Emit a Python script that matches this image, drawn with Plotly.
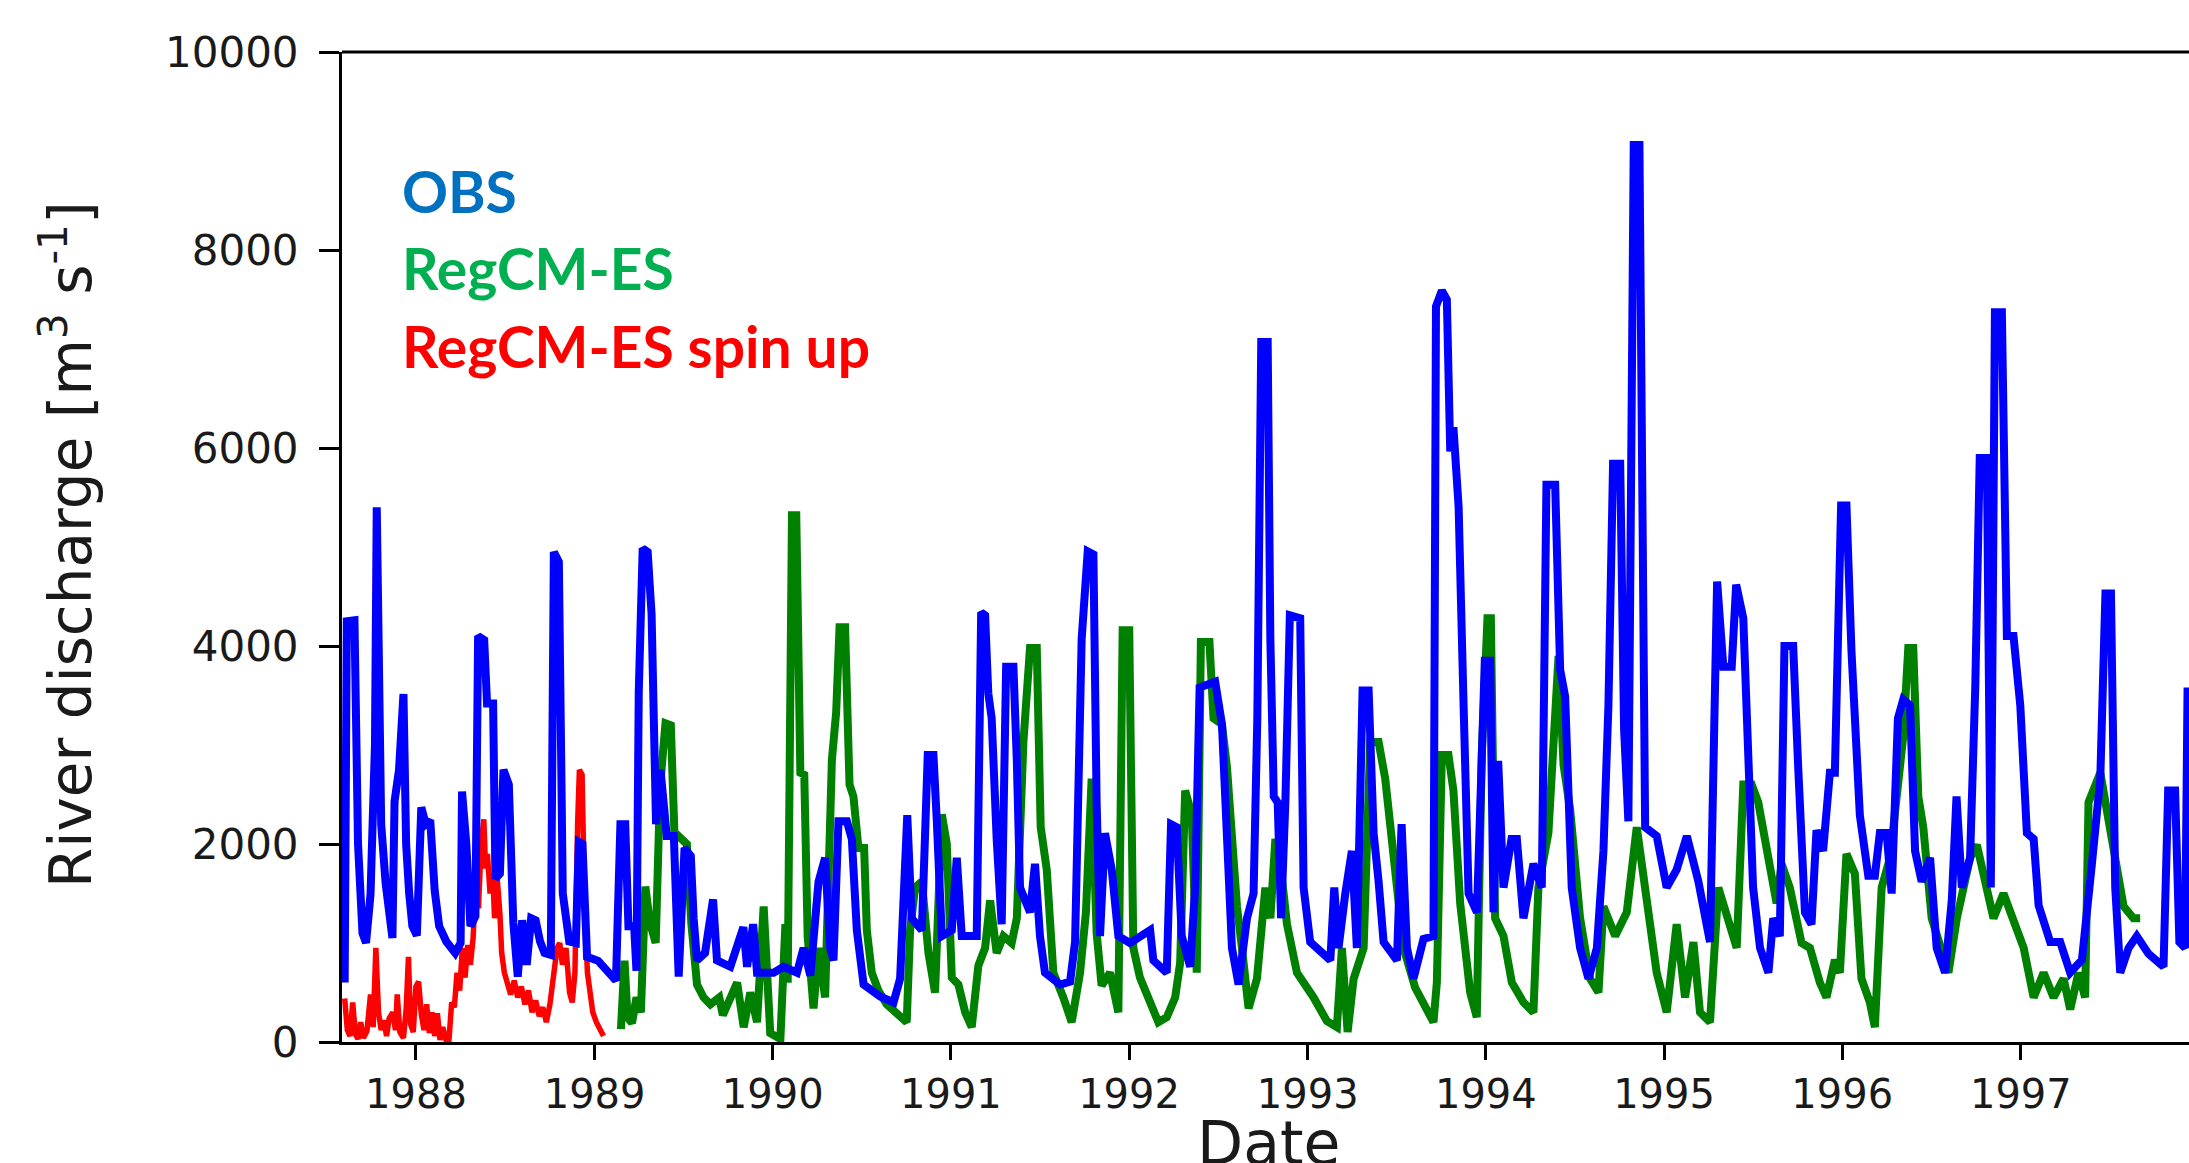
import plotly.graph_objects as go
from datetime import datetime

# ---------------- data (decimal year, discharge m3/s) ----------------
obs_years = [1987.600,1987.612,1987.655,1987.675,1987.700,1987.720,1987.745,1987.770,1987.780,1987.792,
1987.805,1987.830,1987.850,1987.868,1987.880,1987.905,1987.930,1987.945,1987.962,1987.980,
1988.005,1988.030,1988.055,1988.080,1988.105,1988.130,1988.170,1988.220,1988.250,1988.258,
1988.282,1988.305,1988.333,1988.348,1988.382,1988.398,1988.432,1988.445,1988.470,1988.490,
1988.520,1988.545,1988.570,1988.595,1988.620,1988.645,1988.670,1988.695,1988.720,1988.755,
1988.772,1988.800,1988.822,1988.858,1988.895,1988.912,1988.932,1988.958,1989.020,1989.120,
1989.145,1989.172,1989.190,1989.222,1989.235,1989.248,1989.270,1989.298,1989.320,1989.345,
1989.370,1989.405,1989.445,1989.472,1989.505,1989.540,1989.556,1989.575,1989.620,1989.665,
1989.687,1989.762,1989.835,1989.856,1989.890,1989.912,1990.005,1990.061,1990.136,1990.173,
1990.211,1990.257,1990.294,1990.322,1990.341,1990.369,1990.416,1990.444,1990.472,1990.510,
1990.603,1990.678,1990.715,1990.755,1990.780,1990.837,1990.870,1990.902,1990.921,1990.949,
1991.005,1991.033,1991.061,1991.145,1991.170,1991.192,1991.210,1991.229,1991.257,1991.285,
1991.310,1991.351,1991.370,1991.388,1991.444,1991.472,1991.500,1991.528,1991.613,1991.669,
1991.697,1991.734,1991.768,1991.800,1991.818,1991.837,1991.865,1991.903,1991.940,1992.005,
1992.118,1992.136,1992.211,1992.235,1992.267,1992.295,1992.342,1992.370,1992.395,1992.445,
1992.482,1992.520,1992.548,1992.576,1992.613,1992.660,1992.697,1992.718,1992.740,1992.776,
1992.791,1992.810,1992.832,1992.851,1992.875,1992.900,1992.958,1992.977,1993.014,1993.127,
1993.149,1993.173,1993.211,1993.248,1993.276,1993.308,1993.342,1993.370,1993.398,1993.426,
1993.501,1993.527,1993.557,1993.594,1993.650,1993.706,1993.720,1993.753,1993.781,1993.800,
1993.818,1993.847,1993.875,1993.903,1993.950,1993.994,1994.024,1994.043,1994.069,1994.099,
1994.144,1994.174,1994.211,1994.267,1994.314,1994.340,1994.389,1994.417,1994.445,1994.482,
1994.529,1994.576,1994.623,1994.660,1994.688,1994.714,1994.754,1994.776,1994.800,1994.830,
1994.862,1994.894,1994.959,1995.015,1995.071,1995.128,1995.193,1995.258,1995.298,1995.333,
1995.380,1995.405,1995.445,1995.470,1995.500,1995.539,1995.586,1995.613,1995.650,1995.676,
1995.725,1995.753,1995.791,1995.828,1995.856,1995.893,1995.931,1995.959,1995.994,1996.024,
1996.052,1996.099,1996.146,1996.183,1996.211,1996.249,1996.277,1996.312,1996.342,1996.380,
1996.408,1996.445,1996.492,1996.529,1996.576,1996.614,1996.640,1996.670,1996.716,1996.745,
1996.770,1996.810,1996.832,1996.855,1996.894,1996.922,1996.959,1996.997,1997.034,1997.072,
1997.100,1997.165,1997.221,1997.277,1997.343,1997.399,1997.446,1997.475,1997.506,1997.530,
1997.558,1997.605,1997.651,1997.717,1997.801,1997.827,1997.866,1997.890,1997.922,1997.936]
obs_vals = [600,4250,4260,2000,1100,1000,1490,3000,5400,3200,
2200,1600,1300,1050,2430,2750,3515,2000,1500,1170,
1075,2370,2200,2240,1530,1170,1015,900,1000,2530,
2000,1170,1270,4100,4060,3420,3420,1650,1700,2750,
2600,1210,660,1230,780,1250,1230,1015,900,880,
4950,4850,1500,1015,1000,2020,2000,860,820,620,
2200,2200,1170,1170,720,3540,4985,4950,4320,2200,
2750,2080,2080,660,1960,1880,1250,825,900,1440,
825,760,1160,760,1190,700,700,760,700,950,
670,1620,1860,950,825,2230,2230,2050,1130,580,
460,400,640,2290,1250,1130,2900,2900,2230,1070,
1130,1860,1070,1070,4340,4310,3520,3270,2050,1190,
3790,3790,2840,1560,1310,1800,1070,700,580,610,
1010,4070,4955,4925,2420,1070,2110,1740,1070,1000,
1130,825,700,2200,2170,1070,760,1560,3580,3610,
3640,3210,2050,950,580,1250,1500,3270,7070,7070,
4070,2480,2420,1250,2420,4310,4280,1560,1010,825,
1560,950,1500,1930,950,3550,3550,2110,1620,1010,
825,2200,950,640,1040,1070,7430,7590,7500,5965,
6210,5410,3400,1500,1310,3850,3850,1310,2840,1560,
2050,2050,1250,1800,1560,5630,5630,3760,3490,1560,
950,640,950,1930,3400,5840,5840,3150,2230,9060,
9060,2170,2080,1560,1740,2080,1620,1010,4650,3790,
3790,4620,4280,2780,1560,950,700,1250,1070,4000,
4000,2780,1310,1190,2140,1930,2720,2720,5420,5420,
3950,2290,1680,1680,2110,2110,1500,3270,3460,3400,
1930,1620,1860,950,700,1440,2480,1560,1860,3580,
5900,5900,1560,7370,7370,4100,4100,3400,2110,2050,
1380,1010,1010,700,830,1800,2660,4530,4530,1560,
700,950,1070,890,760,2540,2540,1010,950,3580]

regcm_years = [1989.148,1989.168,1989.185,1989.210,1989.235,1989.260,1989.285,1989.310,1989.343,1989.368,
1989.398,1989.428,1989.448,1989.485,1989.518,1989.543,1989.575,1989.612,1989.650,1989.700,
1989.720,1989.800,1989.837,1989.874,1989.912,1989.949,1989.986,1990.043,1990.071,1990.084,
1990.108,1990.132,1990.155,1990.177,1990.196,1990.229,1990.257,1990.294,1990.332,1990.356,
1990.375,1990.406,1990.431,1990.453,1990.481,1990.513,1990.528,1990.556,1990.593,1990.640,
1990.696,1990.752,1990.771,1990.799,1990.837,1990.874,1990.911,1990.949,1990.977,1991.005,
1991.042,1991.080,1991.117,1991.154,1991.192,1991.220,1991.257,1991.295,1991.341,1991.370,
1991.407,1991.444,1991.482,1991.504,1991.538,1991.575,1991.631,1991.678,1991.725,1991.758,
1991.790,1991.818,1991.846,1991.893,1991.940,1991.964,1992.001,1992.024,1992.061,1992.118,
1992.164,1992.211,1992.258,1992.286,1992.314,1992.351,1992.379,1992.402,1992.450,1992.473,
1992.520,1992.548,1992.576,1992.604,1992.632,1992.669,1992.716,1992.763,1992.791,1992.819,
1992.847,1992.884,1992.940,1993.033,1993.108,1993.164,1993.192,1993.224,1993.258,1993.314,
1993.351,1993.398,1993.435,1993.491,1993.538,1993.603,1993.669,1993.706,1993.725,1993.753,
1993.790,1993.818,1993.856,1993.912,1993.949,1993.977,1994.009,1994.028,1994.052,1994.099,
1994.146,1994.211,1994.267,1994.295,1994.351,1994.408,1994.436,1994.473,1994.529,1994.585,
1994.632,1994.660,1994.726,1994.791,1994.847,1994.903,1994.959,1995.015,1995.071,1995.118,
1995.165,1995.202,1995.258,1995.305,1995.361,1995.408,1995.445,1995.492,1995.529,1995.586,
1995.632,1995.660,1995.706,1995.772,1995.819,1995.875,1995.912,1995.959,1995.987,1996.024,
1996.071,1996.108,1996.155,1996.183,1996.221,1996.268,1996.305,1996.342,1996.370,1996.398,
1996.426,1996.454,1996.501,1996.548,1996.595,1996.642,1996.679,1996.716,1996.754,1996.810,
1996.847,1996.903,1996.959,1997.016,1997.072,1997.128,1997.184,1997.240,1997.277,1997.324,
1997.361,1997.380,1997.446,1997.502,1997.530,1997.577,1997.632,1997.670]
regcm_vals = [130,820,250,190,450,300,1570,1210,1000,2590,
3220,3200,2120,2040,2000,1200,580,450,380,450,
270,600,150,500,200,1370,90,30,1190,600,
5320,5320,2720,2700,1070,340,950,450,2850,3330,
4190,4190,2600,2480,1960,1960,1130,700,520,380,
300,200,1130,1560,1620,900,500,2300,2000,650,
580,300,150,770,950,1430,900,1070,1000,1250,
3030,3980,3980,2170,1740,700,450,200,700,1310,
2660,1100,570,700,300,4160,4160,950,650,400,
200,250,450,800,2540,2300,700,4040,4040,3270,
3210,2780,2000,1370,950,340,640,1560,1250,2050,
1800,1190,700,450,210,150,950,100,640,950,
3030,3030,2660,1800,950,550,300,200,600,2900,
2900,2540,1400,500,250,2900,4280,4280,1250,1070,
600,400,300,1560,2110,3900,2800,2350,1250,640,
500,1370,1070,1310,2170,1500,700,300,1190,450,
1010,300,200,1560,1250,950,2600,2600,2420,1860,
1400,1800,1560,1000,950,600,450,830,700,1900,
1700,640,400,150,1560,1860,2480,3090,3980,3980,
2480,2170,1250,950,700,1250,1560,1860,1990,1560,
1250,1500,1250,950,450,700,450,640,330,700,
450,2420,2720,2170,1860,1370,1250,1250]

spinup_years = [1987.600,1987.615,1987.630,1987.645,1987.660,1987.675,1987.690,1987.705,1987.725,1987.745,
1987.760,1987.775,1987.790,1987.805,1987.820,1987.835,1987.850,1987.870,1987.885,1987.895,
1987.910,1987.930,1987.945,1987.958,1987.970,1987.985,1988.000,1988.015,1988.030,1988.045,
1988.060,1988.075,1988.090,1988.105,1988.120,1988.135,1988.150,1988.170,1988.185,1988.200,
1988.215,1988.230,1988.245,1988.260,1988.275,1988.290,1988.305,1988.320,1988.335,1988.350,
1988.365,1988.380,1988.390,1988.400,1988.415,1988.430,1988.440,1988.455,1988.470,1988.480,
1988.495,1988.510,1988.530,1988.550,1988.570,1988.590,1988.610,1988.630,1988.650,1988.670,
1988.690,1988.710,1988.730,1988.750,1988.770,1988.790,1988.805,1988.820,1988.840,1988.860,
1988.875,1988.890,1988.905,1988.915,1988.930,1988.945,1988.960,1988.975,1988.990,1989.010,
1989.030,1989.050]
spinup_vals = [440,120,60,400,80,30,200,40,110,480,
150,950,300,120,220,60,240,300,120,480,
100,40,330,860,180,100,560,610,280,120,
380,90,300,60,290,20,150,10,20,400,
350,700,520,950,650,980,780,1050,1600,1350,
2000,2250,1750,1900,1500,1700,1250,1650,1300,900,
700,600,480,620,450,560,380,520,300,420,
260,350,200,380,640,950,1000,780,950,500,
400,700,2200,2750,2700,1300,700,450,300,200,
120,60]

y_ticks = [0, 2000, 4000, 6000, 8000, 10000]
legend_labels = ["OBS", "RegCM-ES", "RegCM-ES spin up"]
legend_colors = ["#0070C0", "#00B050", "#FF0000"]


def to_date(y):
    yr = int(y)
    start = datetime(yr, 1, 1)
    end = datetime(yr + 1, 1, 1)
    return start + (end - start) * (y - yr)


# ---------------- figure geometry (pixels) ----------------
W, H = 2189, 1163
L, R, T, B = 342, 0, 52, 121
PW, PH = W - L - R, H - T - B


def px(xpix):
    return (xpix - L) / PW


def py(ypix):
    return (H - B - ypix) / PH


fig = go.Figure()
fig.add_trace(go.Scatter(x=[to_date(v) for v in spinup_years], y=spinup_vals, mode="lines",
                         line=dict(color="#FF0000", width=5.5), name="RegCM-ES spin up"))
fig.add_trace(go.Scatter(x=[to_date(v) for v in regcm_years], y=regcm_vals, mode="lines",
                         line=dict(color="#008000", width=8), name="RegCM-ES"))
fig.add_trace(go.Scatter(x=[to_date(v) for v in obs_years], y=obs_vals, mode="lines",
                         line=dict(color="#0000FF", width=8), name="OBS"))

x_tick_font = dict(family="DejaVu Sans", size=40, color="#1a1a1a")
y_tick_font = dict(family="DejaVu Sans", size=42, color="#1a1a1a")

fig.update_layout(
    width=W, height=H,
    margin=dict(l=L, r=R, t=T, b=B, autoexpand=False),
    paper_bgcolor="white", plot_bgcolor="white",
    showlegend=False,
    xaxis=dict(
        type="date",
        range=[to_date(1987.585), to_date(1997.944)],
        dtick="M12", tick0="1988-01-01", tickformat="%Y",
        showgrid=False, zeroline=False,
        showline=True, linecolor="black", linewidth=3,
        ticks="outside", ticklen=15, tickwidth=2.5, tickcolor="black",
        tickfont=x_tick_font, ticklabelstandoff=0,
    ),
    yaxis=dict(
        range=[0, 10000], tickvals=y_ticks, ticktext=[str(v) for v in y_ticks],
        showgrid=False, zeroline=False,
        showline=True, linecolor="black", linewidth=3,
        ticks="outside", ticklen=20, tickwidth=2.5, tickcolor="black",
        tickfont=y_tick_font, ticklabelstandoff=12,
    ),
    shapes=[dict(type="line", xref="paper", yref="paper", x0=0, x1=1, y0=1, y1=1,
                 line=dict(color="black", width=3))],
)

annotations = []
# axis titles
annotations.append(dict(text="Date", xref="paper", yref="paper", x=px(1268), y=py(1106),
                        xanchor="center", yanchor="top", showarrow=False,
                        font=dict(family="DejaVu Sans", size=60, color="#1a1a1a")))
annotations.append(dict(text="River discharge [m<sup>3</sup> s<sup>-1</sup>]", xref="paper", yref="paper",
                        x=px(67), y=py(545), xanchor="center", yanchor="middle", textangle=-90,
                        showarrow=False, font=dict(family="DejaVu Sans", size=58, color="#1a1a1a")))
# legend text
legend_tops = [155, 232, 310]
for lab, col, top in zip(legend_labels, legend_colors, legend_tops):
    annotations.append(dict(text="<b>%s</b>" % lab, xref="paper", yref="paper", x=px(400), y=py(top),
                            xanchor="left", yanchor="top", showarrow=False,
                            font=dict(family="Lato", size=57, color=col)))
fig.update_layout(annotations=annotations)

fig.write_html("out.html")
